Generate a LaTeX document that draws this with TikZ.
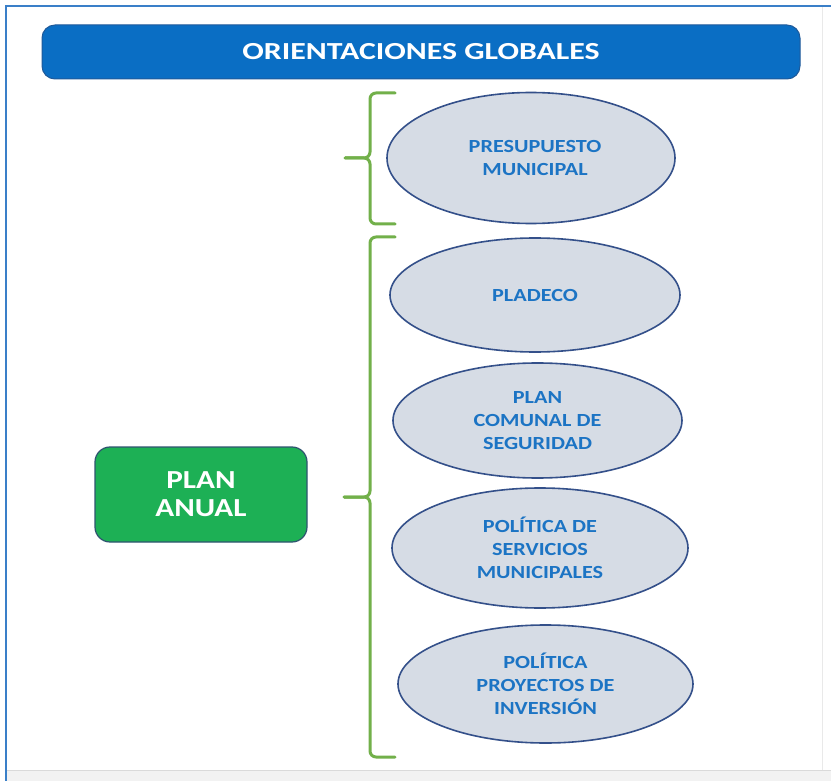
\documentclass[tikz,border=0pt]{standalone}
\usepackage{fontspec}
\setmainfont{Carlito}
\newfontfamily\wideb[FakeStretch=1.2]{Carlito}
\newfontfamily\widet[FakeStretch=1.3]{Carlito}
\usetikzlibrary{shapes.geometric}
\definecolor{frameblue}{HTML}{3A7FC8}
\definecolor{titleblue}{HTML}{0A6EC4}
\definecolor{titleedge}{HTML}{1F5A9A}
\definecolor{ellfill}{HTML}{D6DCE5}
\definecolor{elledge}{HTML}{34508A}
\definecolor{elltext}{HTML}{1C74C4}
\definecolor{boxgreen}{HTML}{1DB055}
\definecolor{boxedge}{HTML}{2F5470}
\definecolor{bracegreen}{HTML}{72B04A}
\definecolor{bandgray}{HTML}{F2F2F2}
\definecolor{bandline}{HTML}{DADADA}
\tikzset{
  titlebar/.style={draw=titleedge, line width=1pt, fill=titleblue, rounded corners=13pt,
    minimum width=758pt, minimum height=54pt, inner sep=0pt,
    text=white, font=\widet\bfseries\fontsize{24.5}{28}\selectfont},
  topic/.style={ellipse, draw=elledge, line width=1.6pt, fill=ellfill, inner sep=0pt,
    align=center, text=elltext, font=\wideb\bfseries\fontsize{18.5}{23}\selectfont},
  planbox/.style={draw=boxedge, line width=1.2pt, fill=boxgreen, rounded corners=15pt,
    minimum width=212pt, minimum height=95pt, inner sep=0pt, align=center,
    text=white, font=\wideb\bfseries\fontsize{26}{28}\selectfont},
  bracebar/.style={draw=bracegreen, line width=3pt, rounded corners=6pt, line cap=round}
}
\begin{document}
\begin{tikzpicture}[x=1pt,y=-1pt]
\useasboundingbox (0,0) rectangle (831,781);
\fill[white] (0,0) rectangle (831,781);
% bottom band
\fill[bandgray] (6,770) rectangle (831,781);
\draw[bandline, line width=1pt] (6,770) -- (831,770);
% frame
\draw[bandline!60!white, line width=1pt] (822,6) -- (822,770);
\draw[frameblue, line width=2.2pt] (6,781) -- (6,6) -- (831,6);
% title
\node[titlebar] (title) at (421,52) {ORIENTACIONES GLOBALES};
% plan anual
\node[planbox] (plan) at (201,494.5) {PLAN\\ANUAL};
% ellipses
\node[topic, minimum width=288pt, minimum height=131pt] (presu) at (531,158) {\hspace*{8pt}PRESUPUESTO\\\hspace*{8pt}MUNICIPAL};
\node[topic, minimum width=290pt, minimum height=114pt] (pladeco) at (535,295) {PLADECO};
\node[topic, minimum width=289pt, minimum height=115pt] (seg) at (537.5,420.5) {PLAN\\COMUNAL DE\\SEGURIDAD};
\node[topic, minimum width=296pt, minimum height=120pt] (serv) at (540,548) {POLÍTICA DE\\SERVICIOS\\MUNICIPALES};
\node[topic, minimum width=295pt, minimum height=118pt] (proy) at (545.5,684) {POLÍTICA\\PROYECTOS DE\\INVERSIÓN};
% braces
\coordinate (b1top) at (395,93);
\coordinate (b1bot) at (395,224);
\coordinate (b1mid) at (370,158);
\coordinate (b1tip) at (345,158);
\draw[bracebar] (b1top) -| (b1mid) -- (b1tip);
\draw[bracebar] (b1bot) -| (b1mid) -- (b1tip);
\coordinate (b2top) at (395,237);
\coordinate (b2bot) at (395,757);
\coordinate (b2mid) at (370,497);
\coordinate (b2tip) at (344,497);
\draw[bracebar] (b2top) -| (b2mid) -- (b2tip);
\draw[bracebar] (b2bot) -| (b2mid) -- (b2tip);
\end{tikzpicture}
\end{document}
